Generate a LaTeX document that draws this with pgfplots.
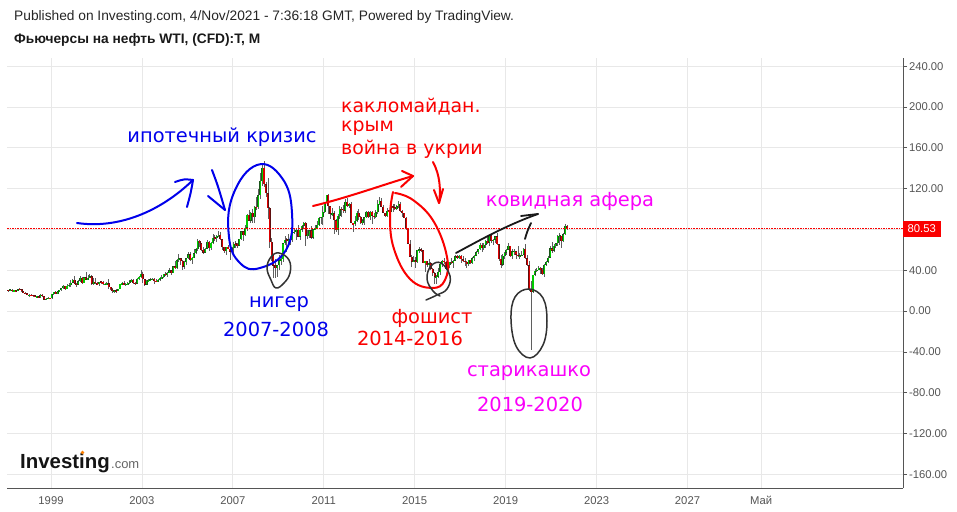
\documentclass[border=0pt]{standalone}
\usepackage{fontspec}
\setmainfont{Liberation Sans}
\newfontfamily\dejavu{DejaVu Sans}
\usepackage{pgfplots}
\usepackage{pgfplotstable}
\pgfplotsset{compat=1.18}

\definecolor{gridc}{RGB}{232,232,232}
\definecolor{axc}{RGB}{85,85,85}
\definecolor{upc}{RGB}{0,205,0}
\definecolor{upo}{RGB}{25,85,25}
\definecolor{dnc}{RGB}{220,0,0}
\definecolor{dno}{RGB}{95,15,15}
\definecolor{wick}{RGB}{95,95,95}
\definecolor{penblue}{RGB}{0,0,235}
\definecolor{penred}{RGB}{250,0,0}
\definecolor{penmag}{RGB}{250,0,250}
\definecolor{pengray}{RGB}{50,50,50}

% WTI monthly candles: year, month, open, high, low, close
\pgfplotstableread{
yr mo o h l c
1997 4 20.41 21.0 19.0 20.21
1997 5 20.21 21.6 19.9 20.88
1997 6 20.88 21.2 18.9 19.80
1997 7 19.80 20.6 19.2 20.14
1997 8 20.14 20.6 19.4 19.61
1997 9 19.61 21.5 19.2 21.18
1997 10 21.18 23.0 20.4 21.08
1997 11 21.08 21.9 19.0 19.15
1997 12 19.15 19.6 17.4 17.64
1998 1 17.64 18.2 16.4 17.21
1998 2 17.21 17.6 15.2 15.44
1998 3 15.44 16.5 14.0 15.61
1998 4 15.61 16.4 14.8 15.39
1998 5 15.39 15.9 14.3 15.20
1998 6 15.20 15.6 13.4 14.18
1998 7 14.18 14.9 13.6 14.21
1998 8 14.21 14.4 12.9 13.36
1998 9 13.36 16.5 13.2 16.14
1998 10 16.14 16.5 13.8 14.42
1998 11 14.42 14.9 11.0 11.22
1998 12 11.22 12.6 10.35 12.05
1999 1 12.05 13.3 11.6 12.75
1999 2 12.75 13.1 11.5 12.27
1999 3 12.27 16.9 12.1 16.76
1999 4 16.76 18.7 15.8 18.66
1999 5 18.66 19.3 16.5 16.84
1999 6 16.84 19.4 16.4 19.29
1999 7 19.29 20.9 18.9 20.53
1999 8 20.53 22.4 19.9 22.11
1999 9 22.11 25.0 21.6 24.51
1999 10 24.51 24.8 20.8 21.75
1999 11 21.75 26.8 21.6 24.59
1999 12 24.59 27.2 24.0 25.60
2000 1 25.60 30.0 24.0 27.64
2000 2 27.64 31.0 27.3 30.43
2000 3 30.43 34.4 26.8 26.90
2000 4 26.90 27.5 23.8 25.74
2000 5 25.74 30.5 25.4 29.01
2000 6 29.01 34.2 28.3 32.50
2000 7 32.50 33.0 26.8 27.43
2000 8 27.43 33.4 27.1 33.12
2000 9 33.12 37.8 30.0 30.84
2000 10 30.84 35.3 30.3 32.70
2000 11 32.70 36.0 32.4 33.82
2000 12 33.82 35.0 25.6 26.80
2001 1 26.80 32.2 25.8 28.66
2001 2 28.66 32.0 26.6 27.39
2001 3 27.39 28.5 25.8 26.29
2001 4 26.29 28.8 24.8 28.46
2001 5 28.46 29.8 26.6 28.37
2001 6 28.37 29.2 25.4 26.25
2001 7 26.25 27.5 25.0 26.35
2001 8 26.35 28.6 25.9 27.20
2001 9 27.20 31.0 21.8 23.43
2001 10 23.43 23.8 20.3 21.18
2001 11 21.18 23.0 17.5 19.44
2001 12 19.44 21.0 17.8 19.84
2002 1 19.84 21.3 17.9 19.48
2002 2 19.48 22.0 19.2 21.74
2002 3 21.74 26.5 21.3 26.31
2002 4 26.31 28.4 25.0 27.29
2002 5 27.29 29.3 25.0 25.31
2002 6 25.31 27.0 24.2 26.86
2002 7 26.86 28.5 25.8 27.02
2002 8 27.02 30.0 26.4 28.98
2002 9 28.98 31.0 28.0 30.45
2002 10 30.45 31.0 26.5 27.22
2002 11 27.22 28.4 25.0 26.89
2002 12 26.89 32.8 26.2 31.20
2003 1 31.20 34.5 30.0 33.51
2003 2 33.51 39.9 32.5 36.60
2003 3 36.60 38.0 27.0 31.04
2003 4 31.04 31.2 24.9 25.80
2003 5 25.80 30.0 25.0 29.56
2003 6 29.56 31.5 28.6 30.19
2003 7 30.19 32.2 29.3 30.54
2003 8 30.54 32.8 30.2 31.57
2003 9 31.57 31.9 26.0 29.20
2003 10 29.20 31.6 28.3 29.11
2003 11 29.11 31.0 28.5 30.41
2003 12 30.41 33.0 29.5 32.52
2004 1 32.52 35.2 31.4 33.05
2004 2 33.05 36.5 32.0 36.16
2004 3 36.16 38.2 34.5 35.76
2004 4 35.76 38.0 33.6 37.38
2004 5 37.38 42.3 37.2 39.88
2004 6 39.88 40.2 35.2 37.05
2004 7 37.05 44.0 36.8 43.80
2004 8 43.80 49.4 41.6 42.12
2004 9 42.12 50.5 41.6 49.64
2004 10 49.64 55.6 48.4 51.76
2004 11 51.76 52.2 45.3 49.13
2004 12 49.13 49.6 40.3 43.45
2005 1 43.45 49.0 41.3 48.20
2005 2 48.20 52.0 45.0 51.75
2005 3 51.75 57.6 51.0 55.40
2005 4 55.40 58.3 49.2 49.72
2005 5 49.72 52.5 46.2 51.97
2005 6 51.97 60.9 51.5 56.50
2005 7 56.50 62.1 55.7 60.57
2005 8 60.57 70.9 59.2 68.94
2005 9 68.94 70.0 62.3 66.24
2005 10 66.24 66.8 59.3 59.76
2005 11 59.76 62.5 56.2 57.32
2005 12 57.32 61.8 57.0 61.04
2006 1 61.04 69.2 60.4 67.92
2006 2 67.92 68.2 59.3 61.41
2006 3 61.41 67.4 59.5 66.63
2006 4 66.63 75.4 66.0 71.88
2006 5 71.88 74.7 68.5 71.29
2006 6 71.29 74.2 68.1 73.93
2006 7 73.93 78.4 72.5 74.40
2006 8 74.40 77.0 69.3 70.26
2006 9 70.26 70.5 59.5 62.91
2006 10 62.91 63.0 56.6 58.73
2006 11 58.73 63.1 55.3 63.13
2006 12 63.13 64.3 60.6 61.05
2007 1 61.05 61.3 49.9 58.14
2007 2 58.14 62.3 57.2 61.79
2007 3 61.79 68.1 56.0 65.87
2007 4 65.87 68.5 61.9 65.71
2007 5 65.71 66.9 61.5 64.01
2007 6 64.01 70.7 63.5 70.68
2007 7 70.68 78.8 69.7 78.21
2007 8 78.21 78.8 69.0 74.04
2007 9 74.04 83.9 73.8 81.66
2007 10 81.66 94.7 78.3 94.53
2007 11 94.53 99.3 88.0 88.71
2007 12 88.71 97.0 85.9 95.98
2008 1 95.98 100.1 86.1 91.75
2008 2 91.75 103.1 86.1 101.84
2008 3 101.84 111.8 98.6 101.58
2008 4 101.58 119.9 100.1 113.46
2008 5 113.46 135.1 109.8 127.35
2008 6 127.35 143.7 122.5 140.00
2008 7 140.00 147.3 121.4 124.08
2008 8 124.08 126.0 112.2 115.46
2008 9 115.46 130.0 90.5 100.64
2008 10 100.64 102.0 62.0 67.81
2008 11 67.81 72.0 48.8 54.43
2008 12 54.43 55.4 32.4 44.60
2009 1 44.60 50.5 32.7 41.68
2009 2 41.68 43.8 33.6 44.76
2009 3 44.76 54.7 40.0 49.66
2009 4 49.66 53.9 45.0 51.12
2009 5 51.12 66.7 48.4 66.31
2009 6 66.31 73.2 64.4 69.89
2009 7 69.89 72.0 58.3 69.45
2009 8 69.45 75.0 66.0 69.96
2009 9 69.96 72.7 65.1 70.61
2009 10 70.61 82.0 67.9 77.00
2009 11 77.00 81.5 75.2 77.28
2009 12 77.28 79.9 69.4 79.36
2010 1 79.36 83.9 72.4 72.89
2010 2 72.89 80.5 69.5 79.66
2010 3 79.66 83.9 77.9 83.76
2010 4 83.76 87.1 80.5 86.15
2010 5 86.15 87.0 64.2 73.97
2010 6 73.97 79.4 70.8 75.63
2010 7 75.63 79.4 71.3 78.95
2010 8 78.95 83.0 70.8 71.92
2010 9 71.92 80.0 70.8 79.97
2010 10 79.97 84.4 79.0 81.43
2010 11 81.43 88.6 80.3 84.11
2010 12 84.11 92.0 83.8 91.38
2011 1 91.38 92.6 85.1 92.19
2011 2 92.19 103.4 84.1 96.97
2011 3 96.97 107.0 96.0 106.72
2011 4 106.72 113.9 105.5 113.93
2011 5 113.93 115.0 94.6 102.70
2011 6 102.70 103.4 89.7 95.42
2011 7 95.42 100.6 93.6 95.70
2011 8 95.70 98.0 75.7 88.81
2011 9 88.81 90.5 77.1 79.20
2011 10 79.20 94.6 74.9 93.19
2011 11 93.19 103.4 90.6 100.36
2011 12 100.36 102.4 92.5 98.83
2012 1 98.83 103.7 96.0 98.48
2012 2 98.48 110.0 95.9 107.07
2012 3 107.07 110.5 102.0 103.02
2012 4 103.02 106.0 101.1 104.87
2012 5 104.87 106.6 86.0 86.53
2012 6 86.53 86.7 77.3 84.96
2012 7 84.96 92.9 83.4 88.06
2012 8 88.06 98.3 87.4 96.47
2012 9 96.47 100.4 89.4 92.19
2012 10 92.19 93.2 84.8 86.24
2012 11 86.24 90.3 84.1 88.91
2012 12 88.91 91.0 84.1 91.82
2013 1 91.82 98.2 91.2 97.49
2013 2 97.49 97.8 91.3 92.05
2013 3 92.05 97.7 89.3 97.23
2013 4 97.23 97.8 85.6 93.46
2013 5 93.46 96.0 90.5 91.97
2013 6 91.97 99.0 91.2 96.56
2013 7 96.56 108.9 95.4 105.03
2013 8 105.03 112.2 103.6 107.65
2013 9 107.65 110.7 101.8 102.33
2013 10 102.33 104.3 95.6 96.38
2013 11 96.38 96.4 91.8 92.72
2013 12 92.72 100.8 91.8 98.42
2014 1 98.42 98.5 91.2 97.49
2014 2 97.49 104.0 96.6 102.59
2014 3 102.59 105.2 97.4 101.58
2014 4 101.58 104.9 98.7 99.74
2014 5 99.74 104.2 98.7 102.71
2014 6 102.71 107.7 101.4 105.37
2014 7 105.37 106.5 97.2 98.17
2014 8 98.17 98.6 92.5 95.96
2014 9 95.96 96.0 90.8 91.16
2014 10 91.16 92.2 79.4 80.54
2014 11 80.54 80.9 65.7 66.15
2014 12 66.15 69.4 52.7 53.27
2015 1 53.27 55.2 43.6 48.24
2015 2 48.24 54.2 47.6 49.76
2015 3 49.76 52.5 42.0 47.60
2015 4 47.60 59.9 47.1 59.63
2015 5 59.63 62.6 56.5 60.30
2015 6 60.30 61.6 57.4 59.47
2015 7 59.47 59.8 46.7 47.12
2015 8 47.12 49.3 37.8 49.20
2015 9 49.20 49.3 43.2 45.09
2015 10 45.09 50.9 43.0 46.59
2015 11 46.59 48.4 39.9 41.65
2015 12 41.65 42.6 34.0 37.04
2016 1 37.04 38.4 26.2 33.62
2016 2 33.62 34.8 26.1 33.75
2016 3 33.75 41.9 32.7 38.34
2016 4 38.34 46.8 35.2 45.92
2016 5 45.92 50.2 43.0 49.10
2016 6 49.10 51.7 45.8 48.33
2016 7 48.33 49.0 40.6 41.60
2016 8 41.60 48.8 39.2 44.70
2016 9 44.70 48.3 42.5 48.24
2016 10 48.24 52.2 46.1 46.86
2016 11 46.86 49.9 42.2 49.44
2016 12 49.44 54.5 49.3 53.72
2017 1 53.72 55.2 50.7 52.81
2017 2 52.81 54.9 51.2 54.01
2017 3 54.01 54.6 47.1 50.60
2017 4 50.60 53.8 48.2 49.33
2017 5 49.33 52.0 43.8 48.32
2017 6 48.32 48.8 42.1 46.04
2017 7 46.04 50.4 44.4 50.17
2017 8 50.17 50.4 45.6 47.23
2017 9 47.23 52.9 46.0 51.67
2017 10 51.67 54.8 49.1 54.38
2017 11 54.38 59.0 53.8 57.40
2017 12 57.40 60.5 56.1 60.42
2018 1 60.42 66.7 59.8 64.73
2018 2 64.73 66.7 58.1 61.64
2018 3 61.64 66.6 59.9 64.94
2018 4 64.94 69.6 62.1 68.57
2018 5 68.57 72.8 65.8 67.04
2018 6 67.04 74.5 63.6 74.15
2018 7 74.15 75.3 67.0 68.76
2018 8 68.76 70.8 64.4 69.80
2018 9 69.80 73.7 67.0 73.25
2018 10 73.25 76.9 64.9 65.31
2018 11 65.31 65.6 49.4 50.93
2018 12 50.93 54.5 42.4 45.41
2019 1 45.41 55.4 44.3 53.79
2019 2 53.79 57.8 51.3 57.22
2019 3 57.22 60.7 55.1 60.14
2019 4 60.14 66.6 59.9 63.91
2019 5 63.91 64.1 53.0 53.50
2019 6 53.50 60.3 50.6 58.47
2019 7 58.47 60.9 54.7 58.58
2019 8 58.58 58.8 50.5 55.10
2019 9 55.10 63.4 52.9 54.07
2019 10 54.07 56.9 50.9 54.18
2019 11 54.18 58.7 54.0 55.17
2019 12 55.17 61.8 55.0 61.06
2020 1 61.06 65.6 50.6 51.56
2020 2 51.56 54.7 44.0 44.76
2020 3 44.76 48.7 19.3 20.48
2020 4 20.48 29.1 -38.0 18.84
2020 5 18.84 35.6 18.0 35.49
2020 6 35.49 40.7 34.4 39.27
2020 7 39.27 42.5 38.7 40.27
2020 8 40.27 43.8 40.0 42.61
2020 9 42.61 43.4 36.1 40.22
2020 10 40.22 41.9 34.9 35.79
2020 11 35.79 46.3 33.6 45.34
2020 12 45.34 49.3 44.0 48.52
2021 1 48.52 53.9 47.3 52.20
2021 2 52.20 63.8 51.9 61.50
2021 3 61.50 67.9 57.3 59.16
2021 4 59.16 65.5 57.6 63.58
2021 5 63.58 67.0 61.6 66.32
2021 6 66.32 74.4 64.0 73.47
2021 7 73.47 76.9 65.0 73.95
2021 8 73.95 74.0 61.7 68.50
2021 9 68.50 76.7 67.6 75.03
2021 10 75.03 85.4 74.2 83.57
2021 11 83.57 84.5 79.5 80.53
}\wti

\pgfplotsset{
  candle/.style={draw=none, mark=none, forget plot,
    error bars/y dir=both, error bars/y explicit, error bars/error mark=none},
}

\begin{document}
\begin{tikzpicture}
\path[use as bounding box, fill=white] (-7bp,-24bp) rectangle (950bp,488bp);
\begin{axis}[
  scale only axis, width=896bp, height=430bp,
  xmin=1997.064, xmax=2036.48, ymin=-173.5, ymax=248,
  clip=false,
  axis x line*=bottom, axis y line*=right,
  axis line style={draw=axc, line width=0.9bp},
  xtick={1999,2003,2007,2011,2015,2019,2023,2027,2030.24},
  xticklabels={1999,2003,2007,2011,2015,2019,2023,2027,Май},
  ytick={-160,-120,-80,-40,0,40,120,160,200,240},
  extra y ticks={80}, extra y tick labels={},
  extra y tick style={grid=major, tick style={draw=none}},
  grid=major, grid style={draw=gridc, line width=0.8bp},
  xtick style={draw=none},
  ytick style={draw=axc, line width=0.6bp},
  tick align=outside, major tick length=4bp,
  yticklabel={\pgfmathprintnumber[fixed,fixed zerofill,precision=2,assume math mode=true]{\tick}},
  yticklabel style={font=\fontsize{11.3}{13}\selectfont, text=axc, anchor=west, xshift=-1.5bp},
  xticklabel style={font=\fontsize{11.3}{13}\selectfont, text=axc, yshift=-1bp},
]
% wicks
\addplot[candle, error bars/error bar style={draw=wick, line width=0.6bp}]
  table[x expr=\thisrow{yr}+(\thisrow{mo}-1)/12-0.13,
        y expr=(\thisrow{h}+\thisrow{l})/2,
        y error expr=(\thisrow{h}-\thisrow{l})/2] {\wti};
% rising bodies
\addplot[candle, restrict expr to domain={\thisrow{c}-\thisrow{o}}{0:1000},
  error bars/error bar style={draw=upo, line width=2.0bp}]
  table[x expr=\thisrow{yr}+(\thisrow{mo}-1)/12-0.13,
        y expr=(\thisrow{o}+\thisrow{c})/2,
        y error expr={max(abs(\thisrow{c}-\thisrow{o})/2,0.6)}] {\wti};
\addplot[candle, restrict expr to domain={\thisrow{c}-\thisrow{o}}{0:1000},
  error bars/error bar style={draw=upc, line width=1.1bp}]
  table[x expr=\thisrow{yr}+(\thisrow{mo}-1)/12-0.13,
        y expr=(\thisrow{o}+\thisrow{c})/2,
        y error expr={max(abs(\thisrow{c}-\thisrow{o})/2-0.3,0.2)}] {\wti};
% falling bodies
\addplot[candle, restrict expr to domain={\thisrow{o}-\thisrow{c}}{0.00001:1000},
  error bars/error bar style={draw=dno, line width=2.0bp}]
  table[x expr=\thisrow{yr}+(\thisrow{mo}-1)/12-0.13,
        y expr=(\thisrow{o}+\thisrow{c})/2,
        y error expr={max(abs(\thisrow{c}-\thisrow{o})/2,0.6)}] {\wti};
\addplot[candle, restrict expr to domain={\thisrow{o}-\thisrow{c}}{0.00001:1000},
  error bars/error bar style={draw=dnc, line width=1.1bp}]
  table[x expr=\thisrow{yr}+(\thisrow{mo}-1)/12-0.13,
        y expr=(\thisrow{o}+\thisrow{c})/2,
        y error expr={max(abs(\thisrow{c}-\thisrow{o})/2-0.3,0.2)}] {\wti};
% last price line
\addplot[penred, line width=0.8bp, dash pattern=on 1.6bp off 1bp, forget plot]
  coordinates {(1997.064,80.53) (2036.48,80.53)};
\end{axis}

% annotations, in pixel coordinates of the reference
\begin{scope}[x=1bp, y=-1bp, shift={(-7bp,488bp)}, line cap=round, line join=round]
  \node[anchor=west, inner sep=0, font=\fontsize{13.8}{15}\selectfont, text=black!85]
    at (14,17) {Published on Investing.com, 4/Nov/2021 - 7:36:18 GMT, Powered by TradingView.};
  \node[anchor=west, inner sep=0, font=\bfseries\fontsize{13.8}{15}\selectfont, text=black!90]
    at (14,40) {Фьючерсы на нефть WTI, (CFD):T, M};
  \node[anchor=west, fill=penred, text=white, inner xsep=5bp, inner ysep=0bp,
    minimum height=16bp, font=\fontsize{11.3}{13}\selectfont] at (902.5,229) {80.53};
  % logo
  \node[anchor=base west, inner sep=0, font=\bfseries\fontsize{20.5}{21}\selectfont, text=black!92]
    at (20,469) {Investing};
  \node[anchor=base west, inner sep=0, font=\fontsize{13}{13}\selectfont, text=black!60]
    at (111,469) {.com};
  \fill[orange] (82.5,452.5) circle (1.8);

  % blue: mortgage crisis
  \begin{scope}[draw=penblue, line width=2bp]
    \draw (77,223) .. controls (118,229) and (160,212) .. (193,180);
    \draw (175,182) .. controls (184,179) .. (193,180) .. controls (191,192) .. (187,207);
    \draw (212,170) .. controls (218,186) .. (225,210);
    \draw (208,196) -- (225,210);
    \draw plot[smooth cycle, tension=0.75] coordinates
      {(257,165) (282,178) (292,213) (286,250) (260,268) (240,263) (229,237) (233,195)};
  \end{scope}
  \node[text=penblue, font=\dejavu\fontsize{19.5}{20}\selectfont] at (222,137) {ипотечный кризис};
  \node[text=penblue, font=\dejavu\fontsize{19.5}{20}\selectfont] at (279,304) {нигер};
  \node[text=penblue, font=\dejavu\fontsize{19.5}{20}\selectfont] at (276,329) {2007-2008};

  % red: 2014-2016
  \begin{scope}[draw=penred, line width=2bp]
    \draw (313,206) .. controls (350,197) and (385,184) .. (413,176);
    \draw (402,171) -- (413,176) -- (401,187);
    \draw (433,162) .. controls (440,175) and (441,190) .. (439,203);
    \draw (434,190) -- (439,203) -- (443,189);
    \draw plot[smooth, tension=0.7] coordinates
      {(395,193) (413,200) (434,222) (447,257) (445,280) (432,288) (410,279) (394,249) (390,217) (393,192)};
  \end{scope}
  \node[anchor=west, inner sep=0, text=penred, font=\dejavu\fontsize{19}{20}\selectfont] at (341,107) {какломайдан.};
  \node[anchor=west, inner sep=0, text=penred, font=\dejavu\fontsize{19}{20}\selectfont] at (341,128) {крым};
  \node[anchor=west, inner sep=0, text=penred, font=\dejavu\fontsize{19}{20}\selectfont] at (341,149) {война в укрии};
  \node[text=penred, font=\dejavu\fontsize{19.5}{20}\selectfont] at (432,318) {фошист};
  \node[text=penred, font=\dejavu\fontsize{19.5}{20}\selectfont] at (410,338) {2014-2016};

  % dark pencil marks
  \begin{scope}[draw=pengray, line width=1.5bp]
    \draw plot[smooth cycle, tension=0.7] coordinates
      {(279,253) (289,260) (290,273) (284,283) (276,288) (271,280) (267,268) (271,257)};
    \draw plot[smooth, tension=0.7] coordinates
      {(426,300) (437,295) (447,289) (450,276) (441,263) (431,266) (427,279) (433,291) (440,296)};
    \draw plot[smooth cycle, tension=0.65] coordinates
      {(529,289) (543,298) (547,321) (543,345) (530,358) (516,346) (511,319) (515,297)};
    \draw[line width=1.8bp, draw=black!90] (456,253) .. controls (482,239) and (507,225) .. (538,214);
    \draw[line width=1.8bp, draw=black!90] (521,216) -- (538,214);
    \draw[line width=1.8bp, draw=black!90] (525,239) .. controls (527,232) .. (531,223);
  \end{scope}

  % magenta: covid
  \node[text=penmag, font=\dejavu\fontsize{19.5}{20}\selectfont] at (570,201) {ковидная афера};
  \node[text=penmag, font=\dejavu\fontsize{19.5}{20}\selectfont] at (529,373) {старикашко};
  \node[text=penmag, font=\dejavu\fontsize{19.5}{20}\selectfont] at (530,404) {2019-2020};
\end{scope}
\end{tikzpicture}
\end{document}
